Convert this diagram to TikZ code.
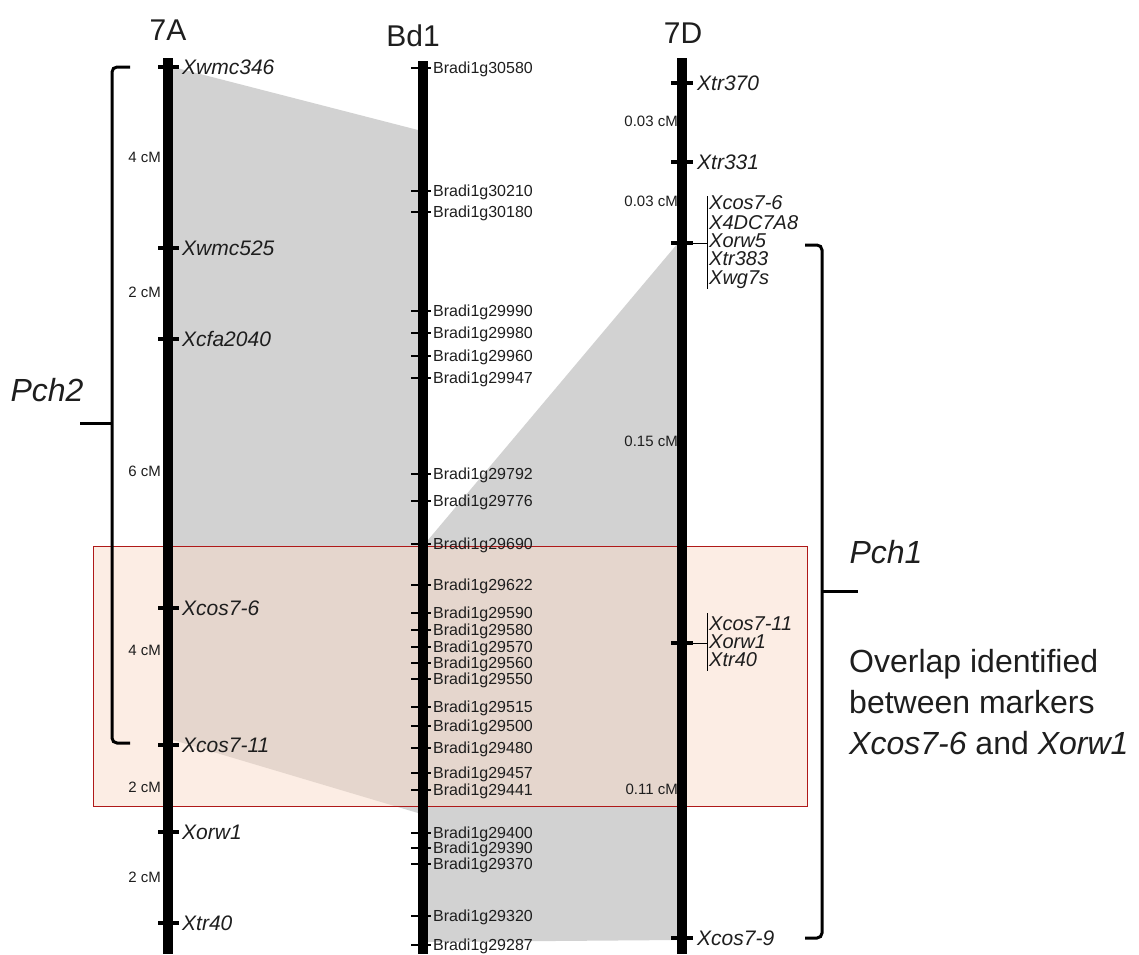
\documentclass[tikz,border=0pt]{standalone}
\usepackage{fontspec}
\setmainfont{Liberation Sans}
\definecolor{syn}{RGB}{210,210,210}
\definecolor{peach}{RGB}{249,219,201}
\definecolor{boxred}{RGB}{175,25,25}
\definecolor{ink}{RGB}{30,30,30}
\begin{document}
\begin{tikzpicture}[x=1pt,y=-1pt,
  chrom/.style={line width=10pt},
  mtick/.style={line width=4.5pt},
  btick/.style={line width=2.5pt},
  brk/.style={line width=3pt, rounded corners=5pt},
  fineline/.style={line width=1pt},
  ttl/.style={font=\fontsize{30}{30}\selectfont, text=ink},
  mklbl/.style={font=\fontsize{21}{21}\selectfont\itshape, anchor=west, inner sep=0pt, text height=15pt, text depth=0pt, text=ink},
  cklbl/.style={font=\fontsize{20}{20}\selectfont\itshape, anchor=west, inner sep=0pt, text height=14.3pt, text depth=0pt, text=ink},
  bdlbl/.style={font=\fontsize{16}{16}\selectfont, anchor=west, inner sep=0pt, text height=11.5pt, text depth=0pt, text=ink},
  cmlbl/.style={font=\fontsize{15}{15}\selectfont, anchor=east, inner sep=0pt, text height=10.7pt, text depth=0pt, text=ink},
  pchlbl/.style={font=\fontsize{32}{32}\selectfont\itshape, text=ink}
]
\useasboundingbox (0,0) rectangle (1139,954);

% synteny blocks
\coordinate (s1a) at (173,67);
\coordinate (s1b) at (418,130);
\coordinate (s1c) at (418,813);
\coordinate (s1d) at (173,740);
\fill[syn] (s1a) -- (s1b) -- (s1c) -- (s1d) -- cycle;
\coordinate (s2a) at (428,540);
\coordinate (s2b) at (678,243);
\coordinate (s2c) at (678,940);
\coordinate (s2d) at (428,942);
\fill[syn] (s2a) -- (s2b) -- (s2c) -- (s2d) -- cycle;

% overlap box
\draw[draw=boxred, line width=1pt, fill=peach, fill opacity=0.5] (93,546) rectangle (807,806);

% titles
\node[ttl] (t7A) at (168,30) {7A};
\node[ttl] (tBd) at (413,36) {Bd1};
\node[ttl] (t7D) at (683,33) {7D};

% chromosomes
\coordinate (A0) at (168,58);  \coordinate (A1) at (168,954);
\coordinate (B0) at (423,61);  \coordinate (B1) at (423,954);
\coordinate (D0) at (682,58);  \coordinate (D1) at (682,954);
\draw[chrom] (A0) -- (A1);
\draw[chrom] (B0) -- (B1);
\draw[chrom] (D0) -- (D1);

% 7A markers
\foreach \n/\y/\t in {a1/67/Xwmc346, a2/248/Xwmc525, a3/339/Xcfa2040, a4/608/Xcos7-6, a5/745/Xcos7-11, a6/832/Xorw1, a7/923/Xtr40}{
  \draw[mtick] (158,\y) -- (179,\y);
  \node[mklbl] (\n) at (182,\y) {\t};
}
% 7A distances
\foreach \n/\y/\t in {c1/157/4 cM, c2/292/2 cM, c3/471/6 cM, c4/650/4 cM, c5/787/2 cM, c6/877/2 cM}{
  \node[cmlbl] (\n) at (161,\y) {\t};
}

% Bd1 genes
\foreach \n/\y/\t in {
  b1/68/Bradi1g30580, b2/191/Bradi1g30210, b3/212/Bradi1g30180,
  b4/311/Bradi1g29990, b5/333/Bradi1g29980, b6/356/Bradi1g29960, b7/378/Bradi1g29947,
  b8/474/Bradi1g29792, b9/501/Bradi1g29776, b10/544/Bradi1g29690, b11/585/Bradi1g29622,
  b12/613/Bradi1g29590, b13/630/Bradi1g29580, b14/647/Bradi1g29570, b15/663/Bradi1g29560,
  b16/679/Bradi1g29550, b17/707/Bradi1g29515, b18/726/Bradi1g29500, b19/748/Bradi1g29480,
  b20/773/Bradi1g29457, b21/790/Bradi1g29441, b22/833/Bradi1g29400, b23/848/Bradi1g29390,
  b24/864/Bradi1g29370, b25/916/Bradi1g29320, b26/945/Bradi1g29287}{
  \draw[btick] (411,\y) -- (431,\y);
  \node[bdlbl] (\n) at (433,\y) {\t};
}

% 7D markers
\foreach \n/\y/\t in {d1/83/Xtr370, d2/162/Xtr331, d5/938/Xcos7-9}{
  \draw[mtick] (671,\y) -- (693,\y);
  \node[mklbl] (\n) at (697,\y) {\t};
}
\draw[mtick] (671,243) -- (693,243);
\draw[mtick] (671,643) -- (693,643);
% 7D distances
\foreach \n/\y/\t in {e1/121/0.03 cM, e2/201/0.03 cM, e3/441/0.15 cM, e4/789/0.11 cM}{
  \node[cmlbl] (\n) at (678,\y) {\t};
}

% 7D cluster 1
\coordinate (k1) at (707,243);
\draw[fineline] (687,243) -- (k1);
\draw[fineline] (707,196) -- (707,289);
\node[cklbl] (g1) at (709,202) {Xcos7-6};
\node[cklbl] (g2) at (709,222) {X4DC7A8};
\node[cklbl] (g3) at (709,240) {Xorw5};
\node[cklbl] (g4) at (709,258) {Xtr383};
\node[cklbl] (g5) at (709,277) {Xwg7s};

% 7D cluster 2
\coordinate (k2) at (707,643);
\draw[fineline] (687,643) -- (k2);
\draw[fineline] (707,613) -- (707,671);
\node[cklbl] (h1) at (709,623) {Xcos7-11};
\node[cklbl] (h2) at (709,641) {Xorw1};
\node[cklbl] (h3) at (709,659) {Xtr40};

% Pch2 bracket
\draw[brk] (130,67) -- (112,67) -- (112,743) -- (130,743);
\draw[line width=3pt] (112,423) -- (80,423);
\node[pchlbl] (pch2) at (47,390) {Pch2};

% Pch1 bracket
\draw[brk] (805,245) -- (822,245) -- (822,938) -- (805,938);
\draw[line width=3pt] (822,591) -- (858,591);
\node[pchlbl] (pch1) at (886,552) {Pch1};

% overlap note
\node[anchor=north west, inner sep=0pt, align=left, text=ink,
      font=\fontsize{32}{41}\selectfont] (note) at (849,649)
  {Overlap identified\\between markers\\\textit{Xcos7-6} and \textit{Xorw1}};
\end{tikzpicture}
\end{document}
